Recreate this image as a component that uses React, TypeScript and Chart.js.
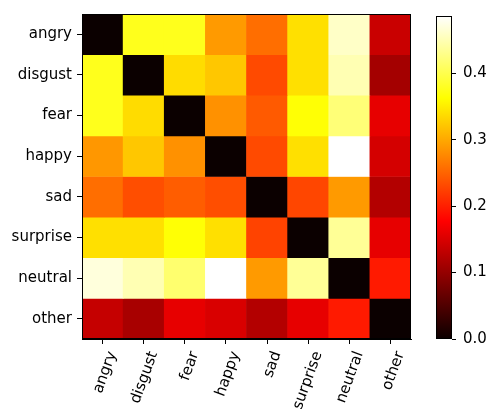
import React, { useEffect, useRef } from "react";
import { Chart, registerables } from "chart.js";

Chart.register(...registerables);

const labels = ["angry", "disgust", "fear", "happy", "sad", "surprise", "neutral", "other"];
const angry = [0, 0.376, 0.376, 0.289, 0.257, 0.34, 0.459, 0.138];
const disgust = [0.376, 0, 0.337, 0.322, 0.231, 0.34, 0.449, 0.111];
const fear = [0.376, 0.337, 0, 0.283, 0.243, 0.365, 0.42, 0.16];
const happy = [0.287, 0.322, 0.283, 0, 0.231, 0.34, 0.486, 0.146];
const sad = [0.257, 0.234, 0.245, 0.234, 0, 0.228, 0.289, 0.122];
const surprise = [0.34, 0.34, 0.365, 0.34, 0.226, 0, 0.435, 0.16];
const neutral = [0.469, 0.449, 0.416, 0.486, 0.289, 0.435, 0, 0.196];
const other = [0.135, 0.114, 0.16, 0.15, 0.122, 0.16, 0.196, 0];
const rows = [angry, disgust, fear, happy, sad, surprise, neutral, other];
const vmax = 0.486;
const colorbarTicks = [0, 0.1, 0.2, 0.3, 0.4];

const FONT = { family: "DejaVu Sans", size: 15 };

const clamp = (v: number) => Math.max(0, Math.min(1, v));
function hot(x: number): string {
  x = clamp(x);
  const r = clamp(0.0416 + (x / 0.365079) * (1 - 0.0416));
  const g = clamp((x - 0.365079) / (0.746032 - 0.365079));
  const b = clamp((x - 0.746032) / (1 - 0.746032));
  return `rgb(${Math.round(r * 255)},${Math.round(g * 255)},${Math.round(b * 255)})`;
}

const framePlugin = {
  id: "frame",
  afterDraw(chart: any) {
    const { ctx, chartArea } = chart;
    ctx.save();
    ctx.strokeStyle = "#000";
    ctx.lineWidth = 1;
    ctx.strokeRect(
      Math.round(chartArea.left) + 0.5,
      Math.round(chartArea.top) + 0.5,
      Math.round(chartArea.right - chartArea.left) - 1,
      Math.round(chartArea.bottom - chartArea.top) - 1
    );
    ctx.restore();
  },
};

export default function App() {
  const mainRef = useRef<HTMLCanvasElement>(null);
  const cbRef = useRef<HTMLCanvasElement>(null);

  useEffect(() => {
    const datasets = rows.map((row, r) => ({
      label: labels[r],
      data: row.map(() => [r, r + 1]),
      backgroundColor: row.map((v) => hot(v / vmax)),
      borderWidth: 0,
      grouped: false,
      barPercentage: 1,
      categoryPercentage: 1,
    }));

    const main = new Chart(mainRef.current!, {
      type: "bar",
      data: { labels, datasets: datasets as any },
      options: {
        animation: false,
        responsive: false,
        maintainAspectRatio: false,
        layout: { padding: { top: 10, right: 9, left: 0, bottom: 0 } },
        plugins: { legend: { display: false }, tooltip: { enabled: false } },
        scales: {
          x: {
            type: "category",
            grid: { offset: false, drawOnChartArea: false, drawTicks: true, tickLength: 5, color: "#000" },
            border: { display: true, color: "#000" },
            ticks: {
              autoSkip: false,
              minRotation: 70,
              maxRotation: 70,
              color: "#000",
              font: FONT,
              padding: 5,
              labelOffset: 10,
            },
            afterFit: (s: any) => {
              s.height = 70;
            },
          },
          y: {
            type: "linear",
            min: 0,
            max: 8,
            reverse: true,
            grid: { drawOnChartArea: false, drawTicks: true, tickLength: 5, color: "#000" },
            border: { display: true, color: "#000" },
            afterBuildTicks: (s: any) => {
              s.ticks = labels.map((_, i) => ({ value: i + 0.5 }));
            },
            ticks: {
              color: "#000",
              font: FONT,
              padding: 5,
              callback: (v: any) => labels[Math.floor(Number(v))],
            },
            afterFit: (s: any) => {
              s.width = 82;
            },
          },
        },
      },
      plugins: [framePlugin],
    });

    const cb = new Chart(cbRef.current!, {
      type: "bar",
      data: {
        labels: [""],
        datasets: [
          {
            data: [[0, vmax]] as any,
            borderWidth: 0,
            barPercentage: 1,
            categoryPercentage: 1,
            backgroundColor: (context: any) => {
              const chart = context.chart;
              const area = chart.chartArea;
              if (!area) return "#000";
              const y = chart.scales.y;
              const g = chart.ctx.createLinearGradient(0, y.getPixelForValue(0), 0, y.getPixelForValue(vmax));
              g.addColorStop(0, hot(0));
              g.addColorStop(0.365079, hot(0.365079));
              g.addColorStop(0.746032, hot(0.746032));
              g.addColorStop(1, hot(1));
              return g;
            },
          },
        ],
      },
      options: {
        animation: false,
        responsive: false,
        maintainAspectRatio: false,
        layout: { padding: { top: 11, left: 16, bottom: 70, right: 0 } },
        plugins: { legend: { display: false }, tooltip: { enabled: false } },
        scales: {
          x: { display: false },
          y: {
            type: "linear",
            position: "right",
            min: 0,
            max: vmax,
            grid: { drawOnChartArea: false, drawTicks: true, tickLength: 4, color: "#000" },
            border: { display: false },
            afterBuildTicks: (s: any) => {
              s.ticks = colorbarTicks.map((v) => ({ value: v }));
            },
            ticks: {
              color: "#000",
              font: FONT,
              padding: 7,
              callback: (v: any) => Number(v).toFixed(1),
            },
            afterFit: (s: any) => {
              s.width = 36;
            },
          },
        },
      },
      plugins: [framePlugin],
    });

    return () => {
      main.destroy();
      cb.destroy();
    };
  }, []);

  return (
    <div style={{ position: "absolute", left: 0, top: 0, width: 488, height: 409, background: "#fff" }}>
      <canvas ref={mainRef} width={420} height={409} style={{ position: "absolute", left: 0, top: 0, width: 420, height: 409 }} />
      <canvas ref={cbRef} width={68} height={409} style={{ position: "absolute", left: 420, top: 0, width: 68, height: 409 }} />
    </div>
  );
}
